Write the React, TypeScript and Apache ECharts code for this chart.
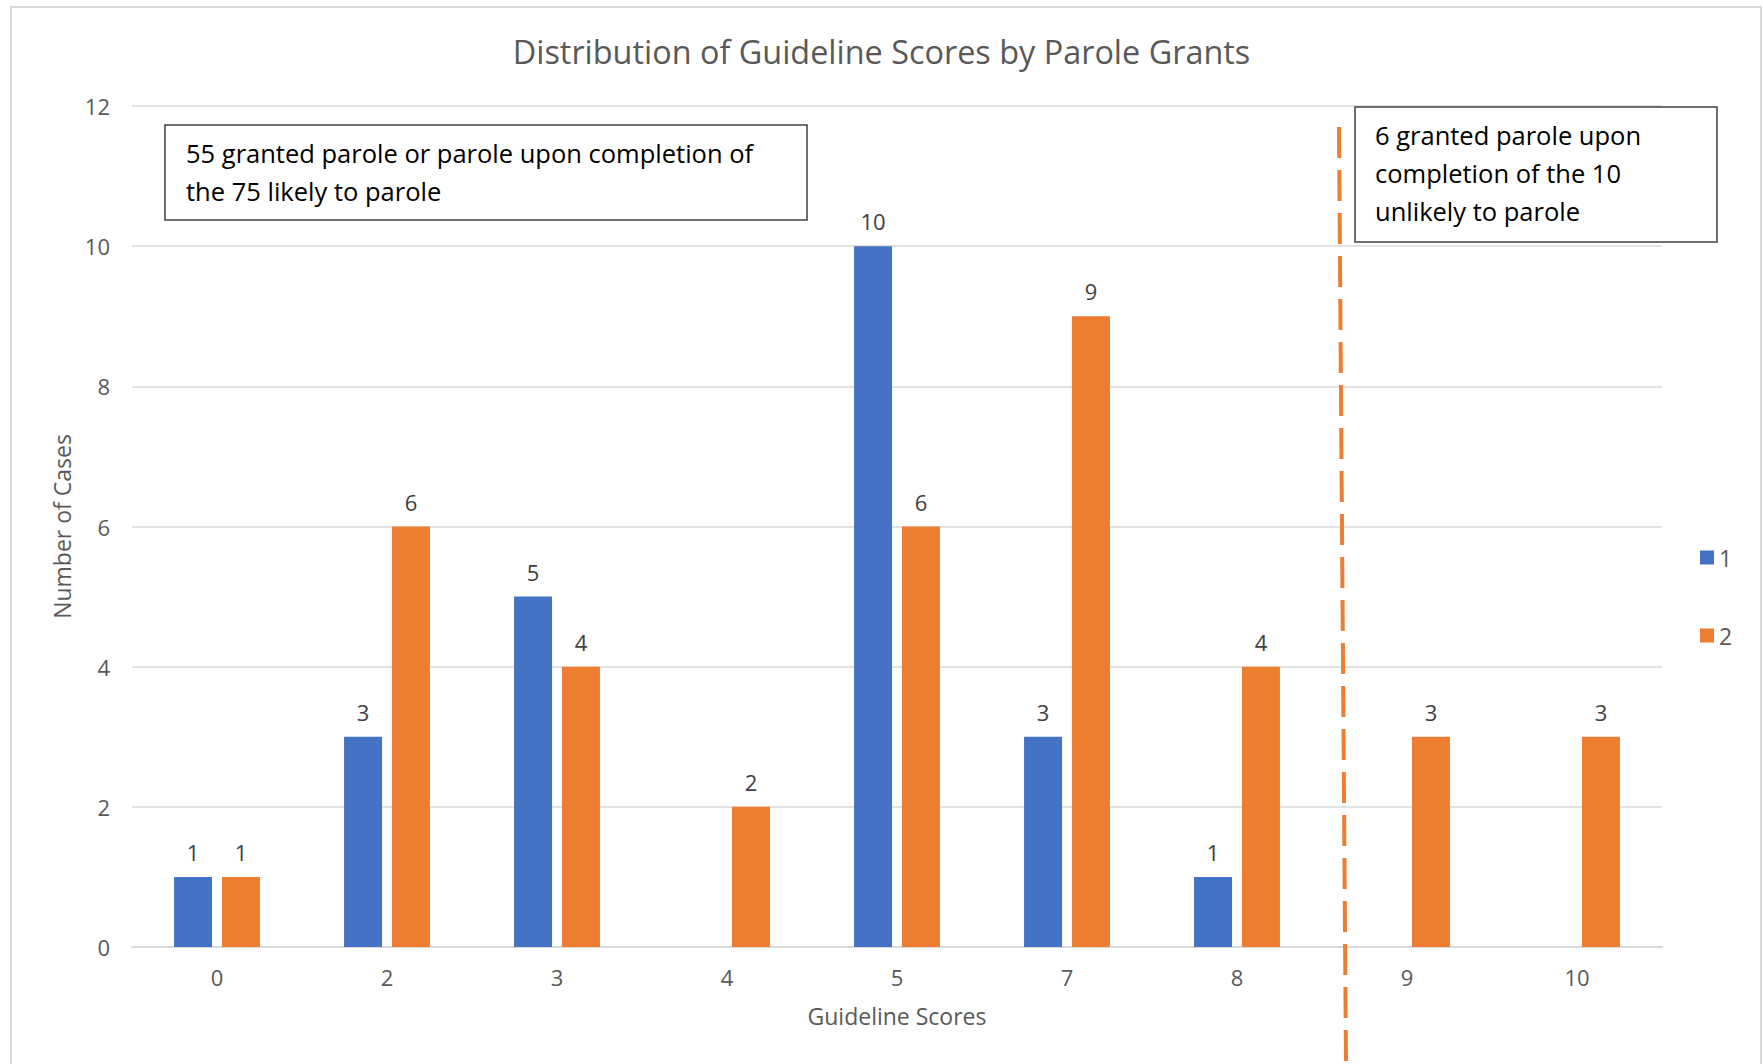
import React, { useEffect, useRef } from "react";
import * as echarts from "echarts";

const categories = ["0", "2", "3", "4", "5", "7", "8", "9", "10"];
const series1Values = [1, 3, 5, null, 10, 3, 1, null, null];
const series2Values = [1, 6, 4, 2, 6, 9, 4, 3, 3];
const seriesNames = ["1", "2"];
const titleText = "Distribution of Guideline Scores by Parole Grants";
const xAxisName = "Guideline Scores";
const yAxisName = "Number of Cases";
const boxLeftLines = [
  "55 granted parole or parole upon completion of",
  "the 75 likely to parole",
];
const boxRightLines = [
  "6 granted parole upon",
  "completion of the 10",
  "unlikely to parole",
];

const FONT = "'Open Sans', 'Noto Sans', sans-serif";
const GRAY = "#595959";

export default function App() {
  const ref = useRef<HTMLDivElement>(null);
  useEffect(() => {
    if (!ref.current) return;
    const chart = echarts.init(ref.current, null, { renderer: "svg" });
    const labelCfg = {
      show: true,
      position: "top",
      distance: 14,
      fontSize: 22,
      color: "#404040",
      fontFamily: FONT,
    };
    chart.setOption({
      animation: false,
      backgroundColor: "#ffffff",
      title: {
        text: titleText,
        left: "center",
        top: 30,
        padding: [5, 0, 5, 10],
        textStyle: { fontSize: 32.4, fontWeight: "normal", color: GRAY, fontFamily: FONT },
      },
      grid: { left: 132, right: 101, top: 106, bottom: 117 },
      legend: {
        orient: "vertical",
        left: 1695,
        top: 541,
        itemWidth: 14,
        itemHeight: 14,
        itemGap: 55,
        icon: "rect",
        textStyle: { fontSize: 23, color: GRAY, fontFamily: FONT },
        data: seriesNames,
      },
      xAxis: {
        type: "category",
        data: categories,
        name: xAxisName,
        nameLocation: "middle",
        nameGap: 57,
        nameTextStyle: { fontSize: 23, color: GRAY, fontFamily: FONT },
        axisLine: { lineStyle: { color: "#D9D9D9", width: 2 } },
        axisTick: { show: false },
        axisLabel: { fontSize: 22, color: GRAY, fontFamily: FONT, margin: 19 },
      },
      yAxis: {
        type: "value",
        min: 0,
        max: 12,
        interval: 2,
        name: yAxisName,
        nameLocation: "middle",
        nameGap: 58,
        nameTextStyle: { fontSize: 23, color: GRAY, fontFamily: FONT },
        axisLine: { show: false },
        axisTick: { show: false },
        axisLabel: { fontSize: 22, color: GRAY, fontFamily: FONT, margin: 22 },
        splitLine: { lineStyle: { color: "#D9D9D9", width: 1.5 } },
      },
      series: [
        {
          name: seriesNames[0],
          type: "bar",
          data: series1Values,
          barWidth: 38,
          barGap: "26%",
          itemStyle: { color: "#4472C4" },
          label: labelCfg,
        },
        {
          name: seriesNames[1],
          type: "bar",
          data: series2Values,
          barWidth: 38,
          barGap: "26%",
          itemStyle: { color: "#ED7D31" },
          label: labelCfg,
        },
      ],
      graphic: [
        {
          type: "rect",
          shape: { x: 11, y: 7, width: 1750, height: 1070 },
          style: { fill: "none", stroke: "#D9D9D9", lineWidth: 2 },
          silent: true,
          z: 0,
        },
        {
          type: "line",
          shape: { x1: 1339, y1: 127, x2: 1346, y2: 1064 },
          style: { stroke: "#ED7D31", lineWidth: 4, lineDash: [31, 12] },
          silent: true,
          z: 10,
        },
        {
          type: "rect",
          shape: { x: 165, y: 125, width: 642, height: 95 },
          style: { fill: "#ffffff", stroke: "#404040", lineWidth: 1.5 },
          z: 20,
        },
        {
          type: "text",
          x: 186,
          y: 134,
          z: 21,
          style: {
            text: boxLeftLines.join("\n"),
            fontSize: 25.5,
            lineHeight: 38,
            fill: "#000000",
            fontFamily: FONT,
          },
        },
        {
          type: "rect",
          shape: { x: 1355, y: 107, width: 362, height: 135 },
          style: { fill: "#ffffff", stroke: "#404040", lineWidth: 1.5 },
          z: 20,
        },
        {
          type: "text",
          x: 1375,
          y: 116,
          z: 21,
          style: {
            text: boxRightLines.join("\n"),
            fontSize: 25.5,
            lineHeight: 38,
            fill: "#000000",
            fontFamily: FONT,
          },
        },
      ],
    });
    return () => chart.dispose();
  }, []);
  return (
    <div
      ref={ref}
      style={{ position: "fixed", left: 0, top: 0, width: 1763, height: 1064 }}
    />
  );
}
